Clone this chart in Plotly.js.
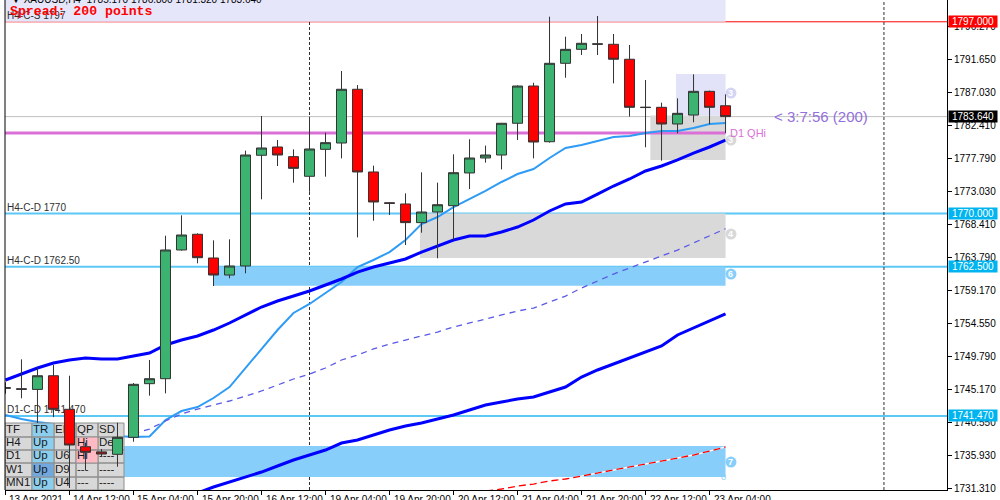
<!DOCTYPE html>
<html><head><meta charset="utf-8">
<script src="https://cdn.plot.ly/plotly-3.0.1.min.js"></script>
<style>html,body{margin:0;padding:0;background:#fff}#chart{width:1000px;height:500px}</style>
</head><body><div id="chart"></div>
<script>
// ---------- DATA ----------
const barIndex = [0,1,2,3,4,5,6,7,8,9,10,11,12,13,14,15,16,17,18,19,20,21,22,23,24,25,26,27,28,29,30,31,32,33,34,35,36,37,38,39,40,41,42,43,44,45];
const openP  = [1745.35,1745.30,1745.20,1747.13,1742.40,1737.13,1736.40,1736.06,1738.45,1746.01,1746.71,1764.85,1767.06,1763.72,1761.32,1762.59,1778.19,1779.36,1778.00,1775.23,1779.03,1779.92,1787.49,1775.84,1771.50,1771.33,1768.70,1770.20,1771.09,1775.70,1777.81,1778.23,1782.70,1787.95,1780.10,1791.15,1793.12,1793.90,1793.83,1791.72,1784.97,1784.95,1782.60,1783.86,1787.20,1785.17];
const highP  = [1746.20,1749.44,1748.30,1748.64,1747.13,1737.70,1736.80,1740.51,1746.10,1749.35,1766.86,1769.73,1767.20,1766.21,1766.35,1778.84,1783.73,1780.35,1779.03,1783.64,1781.38,1790.07,1788.08,1776.73,1771.57,1772.83,1775.79,1774.33,1778.33,1780.45,1779.55,1782.75,1788.05,1788.41,1797.72,1794.90,1795.28,1797.82,1795.28,1793.73,1788.80,1785.60,1786.21,1789.60,1787.30,1786.80];
const lowP   = [1744.60,1743.95,1740.50,1741.30,1731.31,1733.85,1735.80,1734.31,1737.83,1744.32,1744.65,1764.75,1762.97,1759.77,1760.86,1761.56,1771.99,1776.68,1774.33,1773.05,1775.18,1777.76,1766.63,1768.97,1769.78,1765.55,1767.28,1763.68,1766.25,1773.44,1777.15,1776.20,1780.35,1777.76,1779.97,1789.12,1792.32,1792.32,1788.32,1783.64,1779.32,1777.43,1781.29,1782.84,1782.56,1781.32];
const closeP = [1745.45,1745.22,1747.13,1742.40,1737.37,1736.34,1736.10,1738.45,1745.92,1746.71,1764.85,1766.96,1763.76,1761.32,1762.59,1778.23,1779.22,1778.23,1776.35,1779.08,1779.97,1787.49,1775.84,1771.61,1771.42,1768.70,1770.20,1771.23,1775.74,1777.81,1778.23,1782.70,1787.95,1780.06,1791.15,1793.12,1793.97,1793.84,1791.72,1784.95,1784.92,1782.60,1784.10,1787.20,1784.95,1783.64];

const maFast = [1741.60,1741.03,1740.61,1740.33,1739.90,1739.48,1739.06,1738.64,1738.50,1738.57,1740.89,1742.16,1742.72,1743.99,1745.54,1748.22,1751.04,1753.57,1755.97,1757.24,1758.79,1760.34,1762.45,1763.44,1764.56,1766.25,1768.51,1769.49,1770.90,1772.03,1773.16,1774.43,1775.55,1776.26,1777.81,1779.22,1779.64,1780.20,1780.77,1780.91,1781.33,1781.61,1781.61,1782.03,1782.60,1782.74];
const maMid = [1746.53,1747.37,1748.22,1748.92,1749.35,1749.63,1749.49,1749.49,1749.91,1750.33,1751.46,1752.16,1752.73,1753.57,1754.56,1755.69,1756.81,1757.66,1758.36,1759.07,1759.91,1760.76,1761.74,1762.45,1763.01,1763.58,1764.56,1765.41,1766.25,1766.82,1766.82,1767.38,1768.08,1769.07,1770.34,1771.33,1771.61,1772.73,1773.86,1774.85,1775.98,1776.68,1777.53,1778.51,1779.36,1780.34];
const maDaily = [null,null,null,null,null,null,null,null,1738.92,1739.62,1740.75,1741.74,1742.44,1743.00,1743.57,1744.27,1744.98,1745.82,1746.67,1747.37,1748.22,1749.35,1750.05,1750.90,1751.60,1752.16,1752.73,1753.29,1753.99,1754.56,1755.12,1755.69,1756.25,1756.67,1757.52,1758.36,1759.49,1760.48,1761.46,1762.31,1763.15,1764.00,1764.84,1765.83,1766.82,1767.85];
const maSlow = [null,null,null,null,null,null,null,null,null,null,null,1729.90,1730.61,1731.45,1732.16,1732.86,1733.56,1734.41,1735.26,1735.96,1736.66,1737.65,1738.07,1738.78,1739.48,1740.05,1740.47,1741.03,1741.60,1742.30,1743.00,1743.43,1743.85,1744.13,1744.84,1745.54,1746.95,1747.94,1748.78,1749.63,1750.47,1751.32,1752.87,1753.85,1754.84,1755.83];
const maRed = [null,null,null,null,null,null,null,null,null,null,null,null,null,null,null,null,null,null,null,null,null,null,null,null,null,null,null,null,1730.32,1730.61,1730.89,1731.17,1731.59,1731.87,1732.30,1732.58,1733.00,1733.42,1733.85,1734.27,1734.69,1735.11,1735.54,1735.96,1736.52,1737.09];

const labelBars = [0,4,8,12,16,20,24,28,32,36,40,44];
const labelTexts = ['13 Apr 2021','14 Apr 12:00','15 Apr 04:00','15 Apr 20:00','16 Apr 12:00','19 Apr 04:00','19 Apr 20:00','20 Apr 12:00','21 Apr 04:00','21 Apr 20:00','22 Apr 12:00','23 Apr 04:00'];
const priceTicks = [1796.27,1791.65,1787.03,1782.41,1777.79,1773.03,1768.41,1763.79,1759.17,1754.55,1749.79,1745.17,1740.55,1735.93,1731.31];

const levelPrices = [1770.0, 1762.5, 1741.47];
const levelNames = ['H4-C-D 1770','H4-C-D 1762.50','D1-C-D 1741.470'];
const supplyLevel = 1797.0;
const supplyName = 'H4-C-S 1797';
const lastPrice = 1783.64;
const qhiPrice = 1781.33;
const separatorBars = [19, 54.9];

const tableRows = [
  ['TF','TR','EN','QP','SD'],
  ['H4','Up','','Hi','De'],
  ['D1','Up','U6','Hi','----'],
  ['W1','Up','D9','---','----'],
  ['MN1','Up','U4','---','----']
];

// ---------- STYLE / LAYOUT ----------
const FONT = 'Liberation Sans, Arial, sans-serif';
const XR = [-0.03, 58.84];
const YR = [1731.03, 1800.07];

const G='#D8D8D8', LB='#8CCEEE', DB='#72A8DE', PK='#FFBAC4';
const cellColors = [
  [G,LB,G,G,G],
  [G,LB,G,PK,G],
  [G,LB,G,PK,G],
  [G,DB,G,G,G],
  [G,LB,G,G,G]
];
const colEdges = [5,32,54,76,98,124];
const rowEdges = [423,437,450,463,477,490];

const traces = [];
traces.push({type:'scatter', mode:'lines', x:barIndex, y:maFast, line:{color:'#2E9BF5', width:2}, hoverinfo:'skip'});
traces.push({type:'scatter', mode:'lines', x:barIndex, y:maMid, line:{color:'#0000FF', width:3}, hoverinfo:'skip'});
traces.push({type:'scatter', mode:'lines', x:barIndex, y:maDaily, line:{color:'#5A5AE6', width:1.3, dash:'6px,5px'}, hoverinfo:'skip'});
traces.push({type:'scatter', mode:'lines', x:barIndex, y:maSlow, line:{color:'#0000FF', width:3}, hoverinfo:'skip'});
traces.push({type:'scatter', mode:'lines', x:barIndex, y:maRed, line:{color:'#FFFFFF', width:1.3}, hoverinfo:'skip'});
traces.push({type:'scatter', mode:'lines', x:barIndex, y:maRed, line:{color:'#FF0000', width:1.3, dash:'7px,4px'}, hoverinfo:'skip'});
traces.push({type:'scatter', mode:'text', x:levelPrices.map(()=>0.1).concat([0.1]), y:levelPrices.concat([supplyLevel]),
  text:levelNames.concat([supplyName]), textposition:'top right', cliponaxis:false,
  textfont:{family:FONT, size:10, color:'#303030'}, hoverinfo:'skip'});

const colorGroups = {};
tableRows.forEach((row,r)=>row.forEach((txt,c)=>{
  const col = cellColors[r][c];
  if(!colorGroups[col]) colorGroups[col]={x:[],y:[]};
  const g = colorGroups[col];
  const x0=colEdges[c], x1=colEdges[c+1], y0=rowEdges[r], y1=rowEdges[r+1];
  g.x.push(x0,x1,x1,x0,x0,null); g.y.push(y0,y0,y1,y1,y0,null);
}));
Object.keys(colorGroups).forEach(col=>{
  traces.push({type:'scatter', mode:'lines', xaxis:'x2', yaxis:'y2', x:colorGroups[col].x, y:colorGroups[col].y,
    fill:'toself', fillcolor:col, line:{color:'#8E8E8E', width:1}, hoverinfo:'skip'});
});
const tx=[], ty=[], tt=[];
tableRows.forEach((row,r)=>row.forEach((txt,c)=>{
  tx.push(colEdges[c]+1); ty.push((rowEdges[r]+rowEdges[r+1])/2); tt.push(txt);
}));
traces.push({type:'scatter', mode:'text', xaxis:'x2', yaxis:'y2', x:tx, y:ty, text:tt, textposition:'middle right',
  cliponaxis:false, textfont:{family:FONT, size:11.5, color:'#1A1A1A'}, hoverinfo:'skip'});

traces.push({type:'candlestick', xaxis:'x3', yaxis:'y3', x:barIndex, open:openP, high:highP, low:lowP, close:closeP,
  increasing:{fillcolor:'#3CB371', line:{color:'#333333', width:1}},
  decreasing:{fillcolor:'#FF0000', line:{color:'#333333', width:1}},
  whiskerwidth:0, hoverinfo:'skip'});

const lastBar = barIndex[barIndex.length-1];
const shapes = [
  {type:'rect', layer:'below', xref:'x', yref:'y', x0:-0.5, x1:lastBar, y0:supplyLevel, y1:1805, fillcolor:'#E6E6FA', line:{width:0}},
  {type:'rect', layer:'below', xref:'x', yref:'y', x0:25.9, x1:lastBar, y0:1763.72, y1:levelPrices[0], fillcolor:'#D9D9D9', line:{width:0}},
  {type:'rect', layer:'below', xref:'x', yref:'y', x0:12.97, x1:lastBar, y0:1759.82, y1:levelPrices[1], fillcolor:'#87CEFA', line:{width:0}},
  {type:'rect', layer:'below', xref:'x', yref:'y', x0:-0.5, x1:lastBar, y0:1732.86, y1:1737.23, fillcolor:'#87CEFA', line:{width:0}},
  {type:'rect', layer:'below', xref:'x', yref:'y', x0:40.3, x1:lastBar, y0:1777.53, y1:1783.78, fillcolor:'#D9D9D9', line:{width:0}},
  {type:'rect', layer:'below', xref:'x', yref:'y', x0:41.9, x1:lastBar, y0:1783.78, y1:1789.64, fillcolor:'#E2E2F8', line:{width:0}},
  {type:'line', layer:'below', xref:'paper', yref:'y', x0:0, x1:1, y0:supplyLevel, y1:supplyLevel, line:{color:'#FF0000', width:1}},
  {type:'line', layer:'below', xref:'paper', yref:'y', x0:0, x1:1, y0:lastPrice, y1:lastPrice, line:{color:'#C0C0C0', width:1}},
  {type:'line', layer:'below', xref:'x', yref:'y', x0:-0.5, x1:lastBar, y0:qhiPrice, y1:qhiPrice, line:{color:'#DA70D6', width:3}},
];
levelPrices.forEach(p=>shapes.push({type:'line', layer:'below', xref:'paper', yref:'y', x0:0, x1:1, y0:p, y1:p, line:{color:'#5CC8F5', width:2}}));
separatorBars.forEach(b=>shapes.push({type:'line', layer:'below', xref:'x', yref:'paper', x0:b, x1:b, y0:0, y1:1, line:{color:'#303030', width:1, dash:'3px,2px'}}));
shapes.push({type:'line', layer:'above', xref:'paper', yref:'paper', x0:0, x1:0, y0:0, y1:1, line:{color:'#000', width:1}});

const circleX = 45.34;
const circles = [
  {y:1786.96, c:'#D4D4F4', t:'3'},
  {y:1780.34, c:'#D8D8D8', t:'3'},
  {y:1767.10, c:'#D8D8D8', t:'4'},
  {y:1761.46, c:'#87CEFA', t:'6'},
  {y:1734.97, c:'#87CEFA', t:'7'}
];
const annotations = [];
circles.forEach(o=>{
  shapes.push({type:'circle', layer:'above', xref:'x', yref:'y', xsizemode:'pixel', ysizemode:'pixel', xanchor:circleX, yanchor:o.y,
    x0:-5.5, x1:5.5, y0:-5.5, y1:5.5, fillcolor:o.c, line:{width:0}});
  annotations.push({xref:'x', yref:'y', x:circleX, y:o.y, text:'<b>'+o.t+'</b>', showarrow:false, font:{family:FONT, size:9, color:'#FFFFFF'}});
});
annotations.push({xref:'x', yref:'y', x:44.9, y:1732.9, text:'0', showarrow:false, font:{family:FONT, size:9, color:'#87CEFA'}});

annotations.push({xref:'x', yref:'y', x:lastBar+0.15, y:qhiPrice, xanchor:'left', yanchor:'middle', text:'D1 QHi', showarrow:false, font:{family:FONT, size:11, color:'#DA70D6'}});
annotations.push({xref:'x', yref:'y', x:47.9, y:lastPrice, xanchor:'left', yanchor:'middle', text:'&lt; 3:7:56 (200)', showarrow:false, font:{family:FONT, size:15, color:'#9370DB'}});

annotations.push({xref:'paper', yref:'paper', x:0, y:1, xanchor:'left', yanchor:'middle', xshift:4, yshift:1,
  text:'▼ XAUUSD,H4  1785.170 1786.800 1781.320 1783.640', showarrow:false, font:{family:FONT, size:10, color:'#000'}});
annotations.push({xref:'paper', yref:'paper', x:0, y:1, xanchor:'left', yanchor:'middle', xshift:3, yshift:-11,
  text:'<b>Spread: 200 points</b>', showarrow:false, font:{family:'Liberation Mono, Courier New, monospace', size:13.2, color:'#FF0000'}});

const priceBoxes = [[supplyLevel,'#FF0000'],[lastPrice,'#000000'],[levelPrices[0],'#00B4F0'],[levelPrices[1],'#00B4F0'],[levelPrices[2],'#00B4F0']];
priceBoxes.forEach(([p,c])=>annotations.push({xref:'paper', yref:'y', x:1, y:p, xanchor:'left', yanchor:'middle', xshift:1,
  text:p.toFixed(3), showarrow:false, bgcolor:c, width:48, height:11, borderpad:0, font:{family:FONT, size:10, color:'#FFFFFF'}}));

labelBars.forEach((b,i)=>annotations.push({xref:'x', yref:'paper', x:b, y:0, xanchor:'left', yanchor:'top', xshift:2, yshift:-2,
  text:labelTexts[i], showarrow:false, font:{family:FONT, size:10, color:'#000'}}));

const layout = {
  width:1000, height:500,
  margin:{l:5, r:53, t:0, b:10, pad:0},
  paper_bgcolor:'#FFFFFF', plot_bgcolor:'#FFFFFF',
  showlegend:false,
  boxgap:0.375, boxgroupgap:0,
  xaxis:{range:XR, showgrid:false, zeroline:false, showline:true, linecolor:'#000', linewidth:1,
    ticks:'outside', ticklen:4, tickcolor:'#000', tickmode:'array', tickvals:labelBars, showticklabels:false,
    rangeslider:{visible:false}, fixedrange:true},
  yaxis:{side:'right', range:YR, showgrid:false, zeroline:false, showline:true, linecolor:'#000', linewidth:1,
    ticks:'outside', ticklen:4, tickcolor:'#000', tickmode:'array', tickvals:priceTicks, ticktext:priceTicks.map(v=>v.toFixed(3)),
    tickfont:{family:FONT, size:10, color:'#000'}, fixedrange:true},
  xaxis2:{overlaying:'x', range:[5,947], visible:false, fixedrange:true},
  yaxis2:{overlaying:'y', range:[490,0], visible:false, fixedrange:true},
  xaxis3:{overlaying:'x', range:XR, visible:false, rangeslider:{visible:false}, fixedrange:true},
  yaxis3:{overlaying:'y', range:YR, visible:false, fixedrange:true},
  shapes:shapes, annotations:annotations
};
Plotly.newPlot('chart', traces, layout, {staticPlot:true, displayModeBar:false});
</script></body></html>
